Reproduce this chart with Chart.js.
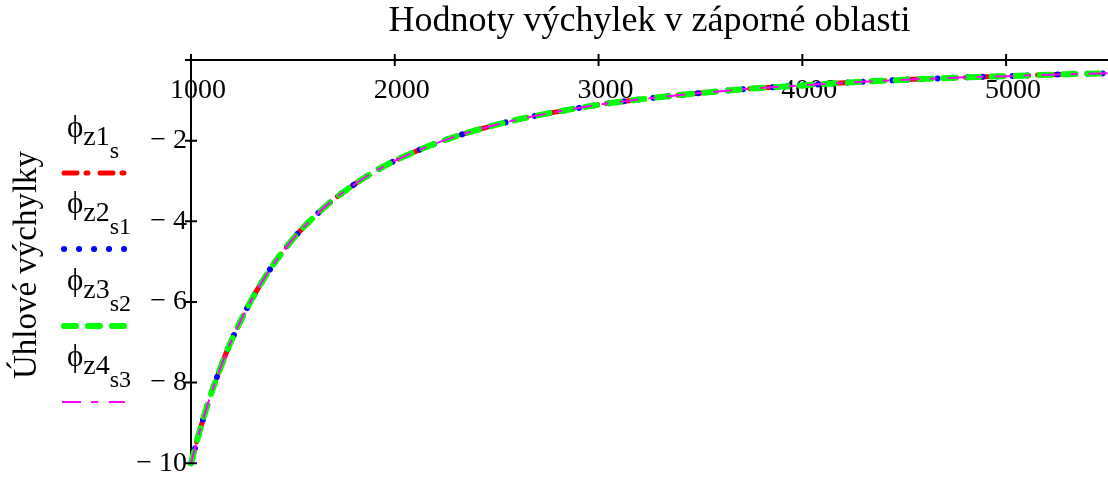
<!DOCTYPE html>
<html lang="cs">
<head>
<meta charset="UTF-8">
<title>Hodnoty výchylek v záporné oblasti</title>
<script src="https://cdn.jsdelivr.net/npm/chart.js"></script>
<style>
  html, body { margin: 0; padding: 0; background: #fff; }
  #obal { width: 1108px; height: 484px; }
</style>
</head>
<body>
<div id="obal"><canvas id="graf"></canvas></div>
<script>
// otáčky na vodorovné ose
const otacky = [1000, 1050, 1100, 1150, 1200, 1300, 1400, 1500, 1600, 1700, 1800, 1900, 2000,
  2200, 2400, 2600, 2800, 3000, 3250, 3500, 3750, 4000, 4250, 4500, 4750, 5000, 5250, 5500];

// úhlové výchylky jednotlivých průběhů (všechny se překrývají)
const phiZ1 = [-10, -9.07, -8.26, -7.56, -6.94, -5.92, -5.10, -4.44, -3.91, -3.46, -3.09, -2.77, -2.50,
  -2.07, -1.74, -1.48, -1.28, -1.11, -0.95, -0.82, -0.71, -0.63, -0.55, -0.49, -0.44, -0.40, -0.36, -0.33];
const phiZ2 = [-10, -9.07, -8.26, -7.56, -6.94, -5.92, -5.10, -4.44, -3.91, -3.46, -3.09, -2.77, -2.50,
  -2.07, -1.74, -1.48, -1.28, -1.11, -0.95, -0.82, -0.71, -0.63, -0.55, -0.49, -0.44, -0.40, -0.36, -0.33];
const phiZ3 = [-10, -9.07, -8.26, -7.56, -6.94, -5.92, -5.10, -4.44, -3.91, -3.46, -3.09, -2.77, -2.50,
  -2.07, -1.74, -1.48, -1.28, -1.11, -0.95, -0.82, -0.71, -0.63, -0.55, -0.49, -0.44, -0.40, -0.36, -0.33];
const phiZ4 = [-10, -9.07, -8.26, -7.56, -6.94, -5.92, -5.10, -4.44, -3.91, -3.46, -3.09, -2.77, -2.50,
  -2.07, -1.74, -1.48, -1.28, -1.11, -0.95, -0.82, -0.71, -0.63, -0.55, -0.49, -0.44, -0.40, -0.36, -0.33];

// značky na osách
const znackyX = [1000, 2000, 3000, 4000, 5000];
const znackyY = [0, -2, -4, -6, -8, -10];

// popisky legendy: index a podindex u symbolu phi
const indexy = ['z1', 'z2', 'z3', 'z4'];
const podindexy = ['s', 's1', 's2', 's3'];

const nadpis = 'Hodnoty výchylek v záporné oblasti';
const popisOsyY = 'Úhlové výchylky';

const PISMO = "'Liberation Serif', 'Times New Roman', serif";

const body = ys => otacky.map((x, i) => ({ x: x, y: ys[i] }));

// nadpisy, křížové značky na osách a legenda s indexy
const popisy = {
  id: 'popisy',
  afterDraw(chart) {
    const ctx = chart.ctx;
    const sx = chart.scales.x, sy = chart.scales.y;
    const osaX = sy.getPixelForValue(0);
    const osaY = chart.chartArea.left;
    ctx.save();
    ctx.strokeStyle = '#000';
    ctx.lineWidth = 2;
    ctx.beginPath();
    sx.ticks.forEach(t => {
      const px = sx.getPixelForValue(t.value);
      ctx.moveTo(px, osaX - 6); ctx.lineTo(px, osaX + 6);
    });
    sy.ticks.forEach(t => {
      const py = sy.getPixelForValue(t.value);
      ctx.moveTo(osaY - 6, py); ctx.lineTo(osaY + 6, py);
    });
    ctx.stroke();

    ctx.fillStyle = '#000';
    ctx.textAlign = 'center';
    ctx.textBaseline = 'alphabetic';
    ctx.font = '36px ' + PISMO;
    ctx.fillText(nadpis, (chart.chartArea.left + chart.chartArea.right) / 2, 31);

    ctx.save();
    ctx.translate(36, 265);
    ctx.rotate(-Math.PI / 2);
    ctx.font = '33px ' + PISMO;
    ctx.fillText(popisOsyY, 0, 0);
    ctx.restore();

    // legenda
    const radky = [173, 249, 326, 402];
    chart.data.datasets.forEach((ds, i) => {
      const L = radky[i];
      ctx.textAlign = 'left';
      ctx.font = '31px ' + PISMO;
      let x = 67;
      ctx.fillText('\u03D5', x, L - 36);
      x += ctx.measureText('\u03D5').width;
      ctx.font = '28px ' + PISMO;
      ctx.fillText(indexy[i], x, L - 28);
      x += ctx.measureText(indexy[i]).width;
      ctx.font = '24px ' + PISMO;
      ctx.fillText(podindexy[i], x, L - 15);

      ctx.beginPath();
      ctx.strokeStyle = ds.borderColor;
      ctx.lineWidth = ds.borderWidth;
      ctx.lineCap = ds.borderCapStyle;
      ctx.setLineDash(ds.borderDash);
      const x0 = ds.borderCapStyle === 'round' ? 64 : 62;
      ctx.moveTo(x0, L);
      ctx.lineTo(125, L);
      ctx.stroke();
    });
    ctx.restore();
  }
};

const spolecne = { pointRadius: 0, fill: false, cubicInterpolationMode: 'monotone', clip: false };

new Chart(document.getElementById('graf'), {
  type: 'line',
  data: {
    datasets: [
      Object.assign({ label: 'phi z1 s', data: body(phiZ1), borderColor: '#ff0000', borderWidth: 5,
        borderDash: [13, 9, 2, 12], borderCapStyle: 'round', order: 4 }, spolecne),
      Object.assign({ label: 'phi z2 s1', data: body(phiZ2), borderColor: '#0000ff', borderWidth: 6,
        borderDash: [0.1, 14.9], borderCapStyle: 'round', order: 3 }, spolecne),
      Object.assign({ label: 'phi z3 s2', data: body(phiZ3), borderColor: '#00ff00', borderWidth: 6,
        borderDash: [12, 12], borderCapStyle: 'round', order: 2 }, spolecne),
      Object.assign({ label: 'phi z4 s3', data: body(phiZ4), borderColor: '#ff00ff', borderWidth: 2,
        borderDash: [19, 10, 7, 11], borderCapStyle: 'butt', order: 1 }, spolecne)
    ]
  },
  options: {
    responsive: true,
    maintainAspectRatio: false,
    animation: false,
    layout: { padding: { left: 0, top: 60, right: 0, bottom: 16 } },
    plugins: { legend: { display: false }, tooltip: { enabled: false }, title: { display: false } },
    scales: {
      x: {
        type: 'linear',
        position: { y: 0 },
        min: 1000,
        max: 5500,
        grid: { display: false, drawTicks: false },
        border: { display: true, color: '#000', width: 2 },
        afterBuildTicks: s => { s.ticks = znackyX.map(v => ({ value: v })); },
        ticks: { padding: 14, labelOffset: 7, color: '#000', font: { family: PISMO, size: 28 },
          maxRotation: 0, autoSkip: false, callback: v => String(v) }
      },
      y: {
        type: 'linear',
        min: -10,
        max: 0,
        grid: { display: false, drawTicks: false },
        border: { display: true, color: '#000', width: 2 },
        afterFit: s => { s.width = 191; },
        afterBuildTicks: s => { s.ticks = znackyY.map(v => ({ value: v })); },
        ticks: { padding: 4, color: '#000', font: { family: PISMO, size: 28 },
          callback: v => v === 0 ? '' : '\u2212 ' + Math.abs(v) }
      }
    }
  },
  plugins: [popisy]
});
</script>
</body>
</html>
